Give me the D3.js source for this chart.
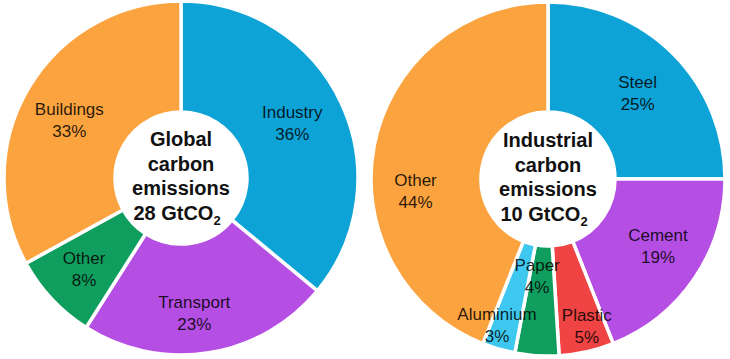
<!DOCTYPE html>
<html><head><meta charset="utf-8">
<script src="https://cdn.jsdelivr.net/npm/d3@7"></script>
<style>
html,body{margin:0;padding:0;background:#fff;}
svg{display:block;}
</style></head>
<body>
<svg id="chart" width="730" height="359"></svg>
<script>
// ---- Data ----
const globalCategories = ["Industry", "Transport", "Other", "Buildings"];
const globalValues = [36, 23, 8, 33];
const globalTitle = ["Global", "carbon", "emissions", "28 GtCO"];

const industryCategories = ["Steel", "Cement", "Plastic", "Paper", "Aluminium", "Other"];
const industryValues = [25, 19, 5, 4, 3, 44];
const industryTitle = ["Industrial", "carbon", "emissions", "10 GtCO"];

// ---- Styles / layout ----
const globalColors = ["#0ea3d6", "#b54fe4", "#109e5f", "#fba33f"];
const industryColors = ["#0ea3d6", "#b54fe4", "#f04343", "#109e5f", "#3fc8ef", "#fba33f"];
// label placement: radius and angular nudge (degrees)
const globalLabelLayout = [{r:124, da:-1}, {r:136, da:3.4}, {r:133, da:0}, {r:126, da:-3}];
const industryLabelLayout = [{r:124, da:1.3}, {r:129, da:-2.7}, {r:152, da:-2.2}, {r:98, da:2.8}, {r:155, da:3}, {r:133, da:-15.8}];

const svg = d3.select("#chart");

function drawDonut(cfg) {
  const g = svg.append("g").attr("transform", `translate(${cfg.cx},${cfg.cy})`);
  const pie = d3.pie().sort(null).value(d => d.v);
  const data = cfg.categories.map((c, i) => ({c, v: cfg.values[i], i}));
  const arcs = pie(data);
  const arc = d3.arc().innerRadius(cfg.inner).outerRadius(cfg.outer);
  g.selectAll("path.slice").data(arcs).join("path")
    .attr("class", "slice")
    .attr("d", arc)
    .attr("fill", d => cfg.colors[d.data.i])
    .attr("stroke", "#fff")
    .attr("stroke-width", 3.5)
    .attr("stroke-linejoin", "miter");
  // labels
  const lab = g.selectAll("g.lab").data(arcs).join("g").attr("class", "lab")
    .attr("transform", d => {
      const L = cfg.layout[d.data.i];
      const a = (d.startAngle + d.endAngle) / 2 + L.da * Math.PI / 180;
      return `translate(${L.r * Math.sin(a)},${-L.r * Math.cos(a)})`;
    });
  lab.append("text")
    .attr("text-anchor", "middle")
    .attr("y", -5)
    .attr("font-family", "Liberation Sans, Arial, sans-serif")
    .attr("font-size", 17)
    .attr("fill", "#000").attr("fill-opacity", 0.85)
    .text(d => d.data.c);
  lab.append("text")
    .attr("text-anchor", "middle")
    .attr("y", 17)
    .attr("font-family", "Liberation Sans, Arial, sans-serif")
    .attr("font-size", 17)
    .attr("fill", "#000").attr("fill-opacity", 0.85)
    .text(d => d3.format(".0f")(d.data.v) + "%");
  // center title
  const t = g.append("text")
    .attr("text-anchor", "middle")
    .attr("font-family", "Liberation Sans, Arial, sans-serif")
    .attr("font-weight", "bold")
    .attr("font-size", 20)
    .attr("fill", "#111");
  cfg.title.forEach((line, i) => {
    const ts = t.append("tspan").attr("x", i === cfg.title.length - 1 ? -4 : 0)
      .attr("y", -32 + i * 24.5).text(line);
  });
  // subscript
  const last = t.selectAll("tspan").filter((d, i, n) => i === cfg.title.length - 1);
  t.append("tspan").attr("font-size", 13).attr("dy", 5).text("2");
}

drawDonut({cx: 181, cy: 178, inner: 66, outer: 177,
  categories: globalCategories, values: globalValues, colors: globalColors,
  layout: globalLabelLayout, title: globalTitle});
drawDonut({cx: 548, cy: 179, inner: 67, outer: 177,
  categories: industryCategories, values: industryValues, colors: industryColors,
  layout: industryLabelLayout, title: industryTitle});
</script>
</body></html>
